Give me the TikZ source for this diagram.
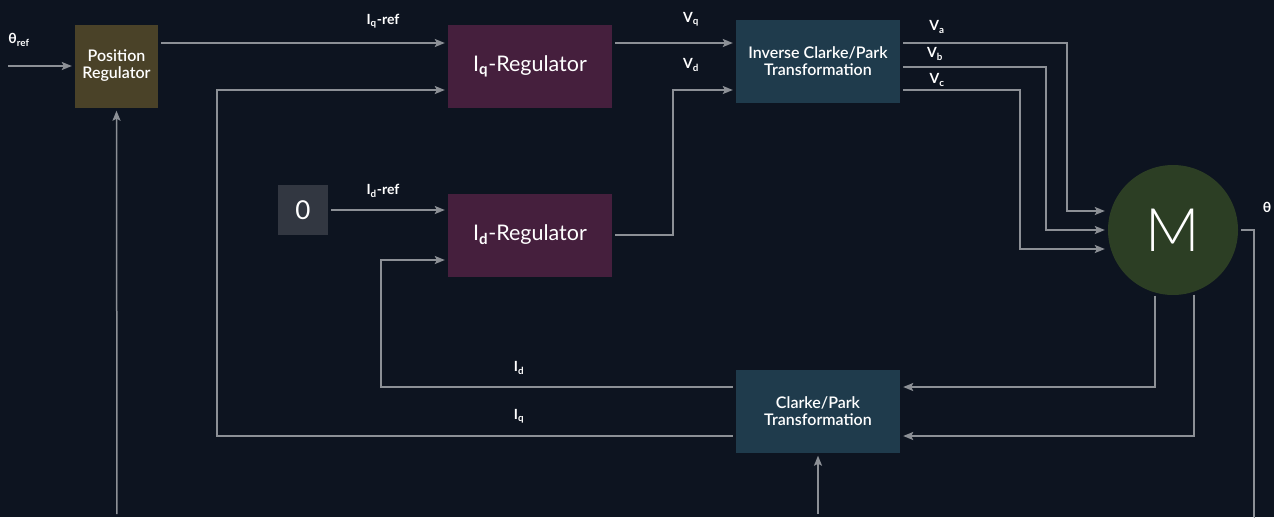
\documentclass[tikz,border=0pt]{standalone}
\usepackage{fontspec}
\setmainfont{Lato}
\newfontfamily\lightfont{Lato Light}
\newfontfamily\semifont{Lato Semibold}
\usetikzlibrary{arrows.meta}

\definecolor{bgdark}{RGB}{13,20,32}
\definecolor{wire}{RGB}{140,144,150}
\definecolor{olivebox}{RGB}{74,66,40}
\definecolor{plumbox}{RGB}{69,31,61}
\definecolor{tealbox}{RGB}{31,59,76}
\definecolor{zerobox}{RGB}{50,55,65}
\definecolor{motorgreen}{RGB}{44,62,36}

\tikzset{
  block/.style={inner sep=0pt, align=center, text=white,
    font=\semifont\fontsize{16}{17}\selectfont},
  bigtext/.style={font=\fontsize{21.5}{24}\selectfont},
  sig/.style={draw=wire, line width=1.5pt, shorten <=3pt, shorten >=3pt,
    -{Stealth[length=10pt,width=8pt,inset=2pt]}},
  bare/.style={draw=wire, line width=1.5pt, shorten <=3pt},
  lbl/.style={inner sep=0pt, text=white, font=\bfseries\fontsize{14}{16}\selectfont}
}

\begin{document}
\begin{tikzpicture}[x=1pt,y=-1pt]
  \useasboundingbox[fill=bgdark] (0,0) rectangle (1274,517);

  % blocks
  \begin{scope}[every node/.style={block, minimum width=164, minimum height=83}]
    \node[fill=olivebox, minimum width=83] (posreg) at (116.5,66) {Position\\Regulator};
    \node[fill=plumbox, bigtext] (iqreg) at (530,66) {I\textsubscript{\bfseries q}-Regulator};
    \node[fill=plumbox, bigtext] (idreg) at (530,235) {I\textsubscript{\bfseries d}-Regulator};
    \node[fill=tealbox] (invpark) at (818,61.5) {Inverse Clarke/Park\\Transformation};
    \node[fill=tealbox] (park) at (818,411) {Clarke/Park\\Transformation};
    \node[fill=zerobox, minimum width=50, minimum height=50, font=\fontsize{26}{28}\selectfont] (zero) at (303,210) {0};
    \node[circle, fill=motorgreen, minimum size=130, font=\lightfont\fontsize{60}{62}\selectfont] (motor) at (1173,230) {M};
  \end{scope}

  % free ends
  \coordinate (thin) at (5,66);
  \coordinate (posfb) at (117,517);
  \coordinate (parkfb) at (818,517);
  \coordinate (thout) at (1254,517);

  % signal labels
  \node[lbl] (thref) at (19,40) {θ\textsubscript{ref}};
  \node[lbl] (iqref) at (383,21) {I\textsubscript{q}-ref};
  \node[lbl] (idref) at (383,191) {I\textsubscript{d}-ref};
  \node[lbl] (vq) at (691,19) {V\textsubscript{q}};
  \node[lbl] (vd) at (691,65) {V\textsubscript{d}};
  \node[lbl] (va) at (937,27) {V\textsubscript{a}};
  \node[lbl] (vb) at (935,54) {V\textsubscript{b}};
  \node[lbl] (vc) at (937,80) {V\textsubscript{c}};
  \node[lbl] (theta) at (1267,207) {θ};
  \node[lbl] (idfb) at (519,368) {I\textsubscript{d}};
  \node[lbl] (iqfb) at (519,416) {I\textsubscript{q}};

  % forward path
  \draw[sig] (thin) -- (posreg.west);
  \draw[sig] (posfb) -- (posreg.south);
  \draw[sig] ([yshift=23]posreg.east) -- ([yshift=23]iqreg.west);
  \draw[sig] (zero.east) -- ([yshift=25]idreg.west);
  \draw[sig] ([yshift=23]iqreg.east) -- ([yshift=18.5]invpark.west);
  \draw[sig] (idreg.east) -- ++(61,0) |- ([yshift=-28.5]invpark.west);

  % phase voltages
  \draw[sig] ([yshift=18.5]invpark.east) -- ++(167,0) |- ([yshift=19]motor.west);
  \draw[sig] ([yshift=-5.5]invpark.east) -- ++(146,0) |- (motor.west);
  \draw[sig] ([yshift=-28.5]invpark.east) -- ++(120,0) |- ([yshift=-19]motor.west);

  % measurements
  \draw[bare] (motor.east) -- ++(16,0) |- (thout);
  \draw[sig] (motor.254) |- ([yshift=24]park.east);
  \draw[sig] (motor.289) |- ([yshift=-25]park.east);
  \draw[sig] (parkfb) -- (park.south);

  % current feedback
  \draw[sig] ([yshift=24]park.west) -- ++(-355,0) |- ([yshift=-25]idreg.west);
  \draw[sig] ([yshift=-25]park.west) -- ++(-519,0) |- ([yshift=-24]iqreg.west);
\end{tikzpicture}
\end{document}
